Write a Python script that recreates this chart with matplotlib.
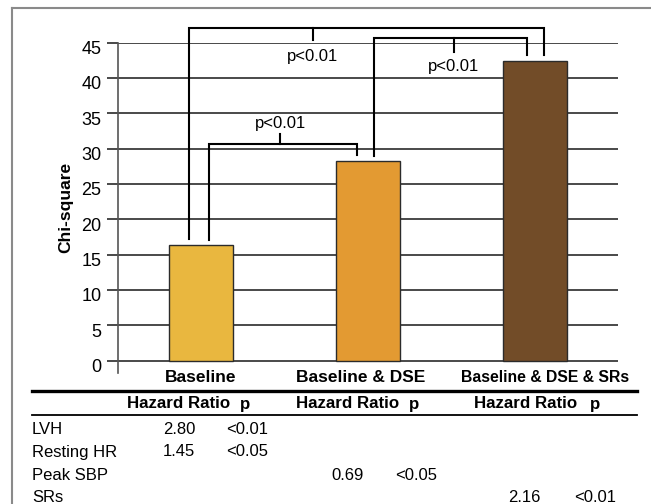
import matplotlib
matplotlib.use("Agg")
import matplotlib.pyplot as plt
from matplotlib.lines import Line2D
from matplotlib.transforms import ScaledTranslation

# ------------------------------------------------------------
# DATA
# ------------------------------------------------------------
categories = ["Baseline", "Baseline & DSE", "Baseline & DSE & SRs"]
chi_square = [16.4, 28.3, 42.4]
bar_colors = ["#E9B73F", "#E39A32", "#724C28"]

row_labels = ["LVH", "Resting HR", "Peak SBP", "SRs"]
hr_baseline = ["2.80", "1.45", "", ""]
p_baseline = ["<0.01", "<0.05", "", ""]
hr_dse = ["", "", "0.69", ""]
p_dse = ["", "", "<0.05", ""]
hr_srs = ["", "", "", "2.16"]
p_srs = ["", "", "", "<0.01"]

pvalue_text = "p<0.01"

W, H = 651, 504
FONT = "Liberation Sans"
plt.rcParams["font.family"] = [FONT, "DejaVu Sans"]


def fx(x):
    return x / W


def fy(y):
    return 1 - y / H


fig = plt.figure(figsize=(W / 100, H / 100), dpi=100)

# outer frame (top and left edges visible)
fig.add_artist(Line2D([fx(12), fx(12)], [fy(8), 0], color="#8a8a8a", lw=1.5))
fig.add_artist(Line2D([fx(12), 1], [fy(8), fy(8)], color="#8a8a8a", lw=1.5))

# ------------------------------------------------------------
# BAR CHART
# ------------------------------------------------------------
ax = fig.add_axes([fx(118), fy(373), fx(618) - fx(118), fy(42.7) - fy(373)])
xpos = list(range(len(categories)))
ax.set_xlim(-0.5, 2.5)
ax.set_ylim(-1.74, 45)
ax.set_yticks(range(0, 50, 5))
ax.yaxis.grid(True, color="#2a2a2a", lw=1.2)
ax.set_axisbelow(True)
ax.bar(xpos, chi_square, width=0.385, color=bar_colors,
       edgecolor="#2b2b2b", lw=1.0, zorder=3)

for s in ["top", "right", "bottom"]:
    ax.spines[s].set_visible(False)
ax.spines["left"].set_color("#555555")
ax.spines["left"].set_linewidth(1.2)
ax.set_xticks([])
ax.tick_params(axis="y", length=8, width=1.2, color="#2a2a2a",
               labelsize=13, pad=4)
for lab in ax.get_yticklabels():
    lab.set_transform(lab.get_transform() +
                      ScaledTranslation(0, -3.5 / 72, fig.dpi_scale_trans))

ax.set_ylabel("Chi-square", fontsize=12.5, fontweight="bold", labelpad=6)

# significance brackets:
# left x, right x, top y, left foot, right foot, tick x, tick end, label y
brackets = [
    (0.044, 0.935, 30.6, 17.1, 29.1, 0.474, 32.1, 33.6),
    (-0.072, 2.054, 47.1, 17.2, 43.2, 0.668, 45.4, 43.1),
    (1.035, 1.954, 45.6, 29.0, 43.3, 1.515, 43.7, 41.7),
]
for x0, x1, top, f0, f1, xm, tick, ly in brackets:
    ax.plot([x0, x0, x1, x1], [f0, top, top, f1], color="black",
            lw=1.5, clip_on=False, zorder=4, solid_joinstyle="miter")
    ax.plot([xm, xm], [top, tick], color="black", lw=1.5,
            clip_on=False, zorder=4)
    ax.text(xm, ly, pvalue_text, ha="center", va="center", fontsize=12,
            zorder=5)

# ------------------------------------------------------------
# TABLE BELOW
# ------------------------------------------------------------
cat_x = [201, 360.5, 545]
cat_size = [12.5, 12.5, 11.3]
for name, x, sz in zip(categories, cat_x, cat_size):
    fig.text(fx(x), fy(377), name, ha="center", va="center",
             fontsize=sz, fontweight="bold")

fig.add_artist(Line2D([fx(32), fx(637)], [fy(391), fy(391)],
                      color="black", lw=2.4))
fig.add_artist(Line2D([fx(32), fx(637)], [fy(415), fy(415)],
                      color="black", lw=1.3))

hr_header_x = [179, 348, 526]
p_header_x = [245, 414, 595]
for x in hr_header_x:
    fig.text(fx(x), fy(404), "Hazard Ratio", ha="center", va="center",
             fontsize=12.2, fontweight="bold")
for x in p_header_x:
    fig.text(fx(x), fy(404), "p", ha="center", va="center",
             fontsize=12.2, fontweight="bold")

row_y = [430, 452, 475, 497]
hr_cols = [hr_baseline, hr_dse, hr_srs]
p_cols = [p_baseline, p_dse, p_srs]
hr_val_x = [179, 348, 524]
p_val_x = [247, 416, 595]
for i, (lab, y) in enumerate(zip(row_labels, row_y)):
    fig.text(fx(32), fy(y), lab, ha="left", va="center", fontsize=12)
    for hc, pc, hx, px in zip(hr_cols, p_cols, hr_val_x, p_val_x):
        if hc[i]:
            fig.text(fx(hx), fy(y), hc[i], ha="center", va="center",
                     fontsize=12)
        if pc[i]:
            fig.text(fx(px), fy(y), pc[i], ha="center", va="center",
                     fontsize=12)

fig.savefig("out.png", dpi=100)
